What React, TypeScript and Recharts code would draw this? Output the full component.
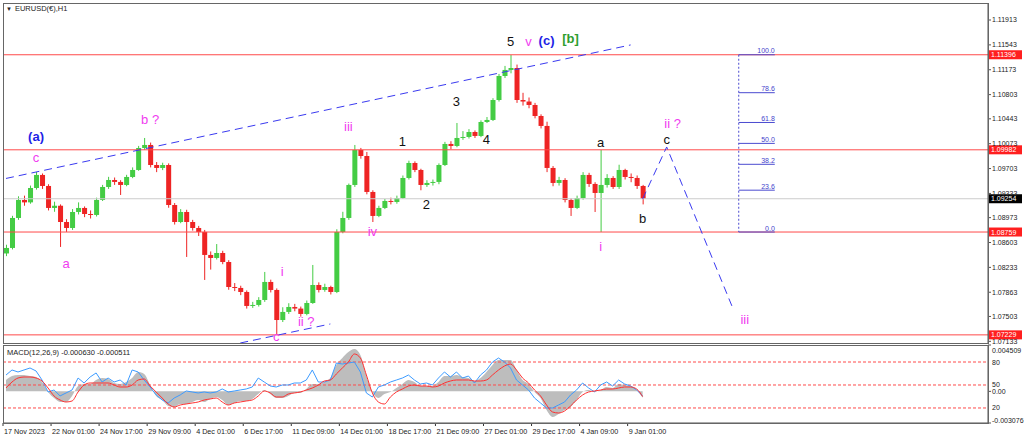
import {
  ComposedChart,
  Bar,
  Line,
  Area,
  XAxis,
  YAxis,
  ReferenceLine,
  ReferenceDot,
} from "recharts";

// EURUSD H1, each candle here folds 8 hourly bars
const FIRST_OPEN = 1.0844;
const closes = [
  1.08522, 1.08968, 1.09236, 1.092, 1.09414, 1.09608, 1.09444, 1.09117, 1.0915, 1.08908,
  1.08819, 1.09057, 1.09117, 1.09027, 1.09013, 1.09236, 1.09429, 1.09533, 1.09504, 1.09459,
  1.09578, 1.09682, 1.10009, 1.10054, 1.09756, 1.09712, 1.09756, 1.09161, 1.08908, 1.09057,
  1.08908, 1.08819, 1.0876, 1.08418, 1.08373, 1.08447, 1.08313, 1.07941, 1.07927, 1.07867,
  1.07659, 1.07674, 1.07748, 1.08016, 1.07897, 1.0745, 1.0757, 1.07644, 1.0762, 1.0754,
  1.07703, 1.07971, 1.07897, 1.07941, 1.07867, 1.0876, 1.08968, 1.09459, 1.0998, 1.0989,
  1.09355, 1.08998, 1.09117, 1.09221, 1.09206, 1.09265, 1.09563, 1.09786, 1.09682, 1.09459,
  1.09489, 1.09504, 1.09756, 1.10069, 1.10039, 1.10158, 1.10173, 1.10247, 1.10188, 1.10396,
  1.10426, 1.10723, 1.1108, 1.1117, 1.11199, 1.10723, 1.107, 1.10649, 1.10485, 1.10337,
  1.09712, 1.09489, 1.09533, 1.09236, 1.09117, 1.09265, 1.09608, 1.09474, 1.0934, 1.09459,
  1.09563, 1.09429, 1.09682, 1.09578, 1.09563, 1.09444, 1.09254,
];
const highs = [
  1.0857, 1.09, 1.0929, 1.093, 1.0945, 1.09652, 1.0963, 1.0947, 1.0921, 1.0917,
  1.0895, 1.091, 1.092, 1.0914, 1.0908, 1.0927, 1.0946, 1.0958, 1.0957, 1.0953,
  1.0961, 1.0972, 1.1004, 1.10158, 1.1009, 1.098, 1.0979, 1.0978, 1.0919, 1.091,
  1.0909, 1.0894, 1.0885, 1.0879, 1.0847, 1.0858, 1.0848, 1.0834, 1.08, 1.0796,
  1.0789, 1.0772, 1.0779, 1.08165, 1.0805, 1.0792, 1.0764, 1.077, 1.0769, 1.0765,
  1.0774, 1.08269, 1.0801, 1.0799, 1.0796, 1.088, 1.0906, 1.0948, 1.10054, 1.1001,
  1.0995, 1.0938, 1.0915, 1.0925, 1.0927, 1.093, 1.096, 1.0982, 1.0981, 1.097,
  1.0953, 1.0954, 1.0978, 1.101, 1.1011, 1.10381, 1.1026, 1.1029, 1.1027, 1.1042,
  1.1047, 1.1075, 1.1111, 1.1123, 1.11393, 1.1125, 1.1083, 1.1076, 1.1068, 1.1051,
  1.104, 1.0974, 1.0958, 1.0956, 1.0926, 1.093, 1.0965, 1.0964, 1.095, 1.0998,
  1.0962, 1.0959, 1.0976, 1.097, 1.0963, 1.096, 1.0946,
];
const lows = [
  1.084, 1.085, 1.0894, 1.0915, 1.0918, 1.0939, 1.094, 1.0908, 1.0906, 1.08537,
  1.0876, 1.0879, 1.0902, 1.0898, 1.0896, 1.0899, 1.0922, 1.094, 1.0946, 1.0931,
  1.0944, 1.0956, 1.0967, 1.0998, 1.0972, 1.0965, 1.0968, 1.0912, 1.0887, 1.0889,
  1.08388, 1.0878, 1.087, 1.08046, 1.082, 1.0835, 1.0828, 1.079, 1.0788, 1.0782,
  1.0762, 1.0763, 1.0765, 1.0772, 1.0786, 1.07242, 1.0742, 1.0754, 1.0758, 1.075,
  1.0752, 1.0769, 1.0786, 1.0787, 1.0783, 1.0785, 1.0874, 1.0894, 1.0943, 1.0985,
  1.0932, 1.08908, 1.0898, 1.091, 1.0917, 1.0918, 1.0925, 1.0954, 1.0965, 1.0938,
  1.0943, 1.0945, 1.0947, 1.0974, 1.0999, 1.1002, 1.1013, 1.1015, 1.10158, 1.1017,
  1.1038, 1.1041, 1.107, 1.1105, 1.1112, 1.1068, 1.1064, 1.106, 1.1045, 1.103,
  1.0965, 1.0944, 1.0945, 1.092, 1.08998, 1.091, 1.0924, 1.0943, 1.09057, 1.08759,
  1.0942, 1.094, 1.094, 1.0954, 1.095, 1.094, 1.0917,
];

// MACD(12,26,9) main + signal, and the 0-100 oscillator drawn in the same window
const macdMain = [
  0.001106, 0.001494, 0.001592, 0.001592, 0.001494, 0.001397, 0.000911, -0.000061, -0.000645, -0.001033,
  -0.001033, -0.00045, 0.000522, 0.000717, 0.000717, 0.001106, 0.0013, 0.001203, 0.000814, 0.000717,
  0.000911, 0.0013, 0.001883, 0.001689, 0.000619, -0.00045, -0.000839, -0.001422, -0.00152, -0.001228,
  -0.001228, -0.001033, -0.000839, -0.001033, -0.000742, -0.000547, -0.000839, -0.001325, -0.001131, -0.000936,
  -0.000936, -0.000742, -0.000256, 0.000133, -0.000256, -0.000645, -0.000645, -0.00045, -0.000158, -0.000158,
  0.00023, 0.000717, 0.000717, 0.000911, 0.0013, 0.002564, 0.003245, 0.003828, 0.00412, 0.003537,
  0.001494, -0.000061, -0.000645, -0.000256, -0.000061, 0.000328, 0.000717, 0.001106, 0.000911, 0.000522,
  0.000522, 0.000522, 0.000911, 0.001494, 0.001494, 0.001592, 0.001397, 0.0013, 0.001008, 0.0013,
  0.001883, 0.002564, 0.00305, 0.00305, 0.00305, 0.002078, 0.001106, 0.000717, -0.000061, -0.000645,
  -0.001811, -0.002492, -0.0022, -0.001811, -0.00152, -0.000839, -0.000061, 0.000133, -0.000061, 0.000133,
  0.000425, 0.000328, 0.000717, 0.000619, 0.000522, 0.000133, -0.00063,
];
const macdSignal = [
  0.000328, 0.000911, 0.0013, 0.001397, 0.001397, 0.0013, 0.001008, 0.000328, -0.00045, -0.000839,
  -0.001033, -0.000936, -0.000061, 0.000619, 0.000814, 0.000814, 0.000814, 0.000814, 0.000619, 0.000425,
  0.000425, 0.000619, 0.001106, 0.001203, 0.000522, -0.000061, -0.000645, -0.001228, -0.00152, -0.001325,
  -0.001228, -0.001131, -0.001033, -0.000839, -0.000742, -0.000645, -0.001033, -0.001325, -0.001131, -0.001033,
  -0.000936, -0.000839, -0.00045, 0.000036, -0.000158, -0.000547, -0.000547, -0.000256, -0.000158, -0.000061,
  0.000133, 0.000328, 0.000619, 0.001008, 0.001106, 0.001689, 0.002272, 0.002856, 0.003634, 0.003245,
  0.001592, -0.000158, -0.001033, -0.001228, -0.000547, -0.000061, 0.00023, 0.000522, 0.000619, 0.000522,
  0.000522, 0.000425, 0.000522, 0.000814, 0.001008, 0.001106, 0.001106, 0.001106, 0.001008, 0.001008,
  0.001106, 0.001592, 0.002078, 0.002467, 0.002661, 0.002078, 0.0013, 0.000814, 0.000133, -0.00045,
  -0.001325, -0.002006, -0.002103, -0.001908, -0.001422, -0.000839, -0.000353, -0.000061, 0.000036, 0.000133,
  0.00023, 0.00023, 0.000328, 0.000425, 0.000425, 0.00023, -0.000511,
];
const oscLine = [
  63.0, 69.6, 67.0, 69.6, 72.2, 68.3, 56.5, 40.9, 43.5, 35.7,
  39.6, 43.5, 59.1, 52.6, 60.4, 65.7, 53.9, 59.1, 53.9, 56.5,
  50.0, 69.6, 67.0, 56.5, 47.4, 37.0, 30.4, 26.5, 33.0, 37.0,
  42.2, 40.9, 39.6, 40.9, 39.6, 40.9, 44.8, 40.9, 42.2, 43.5,
  44.8, 47.4, 59.1, 53.9, 48.7, 47.4, 50.0, 50.0, 52.6, 52.6,
  56.5, 69.6, 53.9, 53.9, 56.5, 78.7, 77.4, 78.7, 80.0, 67.0,
  39.6, 34.3, 47.4, 50.0, 53.9, 56.5, 59.1, 63.0, 56.5, 51.3,
  52.6, 50.0, 59.1, 67.0, 60.4, 67.0, 59.1, 61.7, 52.6, 63.0,
  69.6, 80.0, 85.2, 80.0, 72.2, 56.5, 50.0, 43.5, 33.0, 26.5,
  20.0, 20.0, 23.9, 27.8, 37.0, 43.5, 52.6, 46.1, 40.9, 50.0,
  53.9, 48.7, 56.5, 51.3, 48.7, 43.5, 35.7,
];

const timeLabels = [
  "17 Nov 2023", "22 Nov 01:00", "24 Nov 17:00", "29 Nov 09:00", "4 Dec 01:00",
  "6 Dec 17:00", "11 Dec 09:00", "14 Dec 01:00", "18 Dec 17:00", "21 Dec 09:00",
  "27 Dec 01:00", "29 Dec 17:00", "4 Jan 09:00", "9 Jan 01:00",
];
const timeTickIdx = [0, 8, 16, 24, 32, 40, 48, 56, 64, 72, 80, 88, 96, 104];

const priceTicks = [
  1.11913, 1.11543, 1.11173, 1.10803, 1.10443, 1.10073, 1.09703,
  1.09333, 1.08973, 1.08603, 1.08233, 1.07863, 1.07503, 1.07133,
];
const levelLines = [1.11396, 1.09982, 1.08759, 1.07229];
const currentPrice = 1.09254;

const fibHigh = 1.11396;
const fibLow = 1.08759;
const fibLevels = [100, 78.6, 61.8, 50, 38.2, 23.6, 0];

const trendUpper = [{ i: 0, p: 1.09556 }, { i: 104, p: 1.11542 }];
const trendLower = [{ i: 39, p: 1.07108 }, { i: 54, p: 1.07391 }];
const projIdx = [106, 110, 121];
const projPrice = [1.09251, 1.10024, 1.07629];

const MAG = "#f03cf0";
const BLK = "#111111";
const BLU = "#1f1fe6";
const GRN = "#2f9e2f";

const waveLabels = [
  { text: "(a)", i: 5, p: 1.10173, color: BLU, bold: true },
  { text: "c", i: 5, p: 1.09875, color: MAG },
  { text: "a", i: 10, p: 1.08284, color: MAG },
  { text: "b ?", i: 24, p: 1.10426, color: MAG },
  { text: "i", i: 46, p: 1.08165, color: MAG },
  { text: "ii ?", i: 50, p: 1.07421, color: MAG },
  { text: "c", i: 45, p: 1.07205, color: MAG },
  { text: "iii", i: 57, p: 1.10322, color: MAG },
  { text: "iv", i: 61, p: 1.0876, color: MAG },
  { text: "1", i: 66, p: 1.10113, color: BLK },
  { text: "2", i: 70, p: 1.09161, color: BLK },
  { text: "3", i: 75, p: 1.10694, color: BLK },
  { text: "4", i: 80, p: 1.10128, color: BLK },
  { text: "5", i: 84, p: 1.11586, color: BLK },
  { text: "v", i: 87, p: 1.11586, color: MAG },
  { text: "(c)", i: 90, p: 1.11601, color: BLU, bold: true },
  { text: "[b]", i: 94, p: 1.11631, color: GRN, bold: true },
  { text: "a", i: 99, p: 1.10084, color: BLK },
  { text: "i", i: 99, p: 1.08551, color: MAG },
  { text: "b", i: 106, p: 1.08953, color: BLK },
  { text: "c", i: 110, p: 1.10128, color: BLK },
  { text: "ii ?", i: 111, p: 1.10366, color: MAG },
  { text: "iii", i: 123, p: 1.07451, color: MAG },
];

const TOTAL = 164;
const UP = "#44cc44";
const DOWN = "#ee2424";
const FONT = "'Liberation Sans', Arial, sans-serif";

const rows = Array.from({ length: TOTAL }, (_, i) => {
  const has = i < closes.length;
  const pj = projIdx.indexOf(i);
  return {
    i,
    open: has ? (i === 0 ? FIRST_OPEN : closes[i - 1]) : null,
    close: has ? closes[i] : null,
    range: has ? [lows[i], highs[i]] : null,
    macd: has ? macdMain[i] : null,
    signal: has ? macdSignal[i] : null,
    osc: has ? oscLine[i] : null,
    proj: pj >= 0 ? projPrice[pj] : null,
  };
});

const Candle = (props: any) => {
  const { x, y, width, height, payload } = props;
  if (!payload || payload.close == null || !isFinite(y) || !isFinite(height)) return null;
  const { open, close } = payload;
  const [low, high] = payload.range;
  const top = Math.min(y, y + height);
  const h = Math.abs(height);
  const span = high - low || 1e-9;
  const yOf = (p: number) => top + ((high - p) / span) * h;
  const color = close >= open ? UP : DOWN;
  const bTop = yOf(Math.max(open, close));
  const bBot = yOf(Math.min(open, close));
  const cx = x + width / 2;
  return (
    <g>
      <line x1={cx} x2={cx} y1={top} y2={top + h} stroke={color} strokeWidth={1} />
      <rect x={x} y={bTop} width={width} height={Math.max(1, bBot - bTop)} fill={color} />
    </g>
  );
};

const PriceTag = (props: any) => {
  const vb = props.viewBox || {};
  const x = (vb.x ?? 0) + (vb.width ?? 0);
  const y = vb.y ?? 0;
  return (
    <g>
      <rect x={x + 1} y={y - 4.5} width={33} height={9} fill={props.bg} />
      <text x={x + 3} y={y + 2.6} fontSize={7} fill="#fff" fontFamily={FONT}>
        {props.text}
      </text>
    </g>
  );
};

const FibText = (props: any) => {
  const vb = props.viewBox || {};
  return (
    <text
      x={(vb.x ?? 0) + (vb.width ?? 0)}
      y={(vb.y ?? 0) - 1.5}
      fontSize={7}
      textAnchor="end"
      fill="#4545cc"
      fontFamily={FONT}
    >
      {props.text}
    </text>
  );
};

const WaveText = (props: any) => {
  const vb = props.viewBox || {};
  return (
    <text
      x={(vb.x ?? 0) + (vb.width ?? 0) / 2}
      y={(vb.y ?? 0) + (vb.height ?? 0) / 2}
      fontSize={13}
      fontWeight={props.bold ? "bold" : "normal"}
      textAnchor="middle"
      dominantBaseline="central"
      fill={props.color}
      fontFamily={FONT}
    >
      {props.text}
    </text>
  );
};

const LevelText = (props: any) => {
  const vb = props.viewBox || {};
  return (
    <text
      x={(vb.x ?? 0) + (vb.width ?? 0) + 4}
      y={(vb.y ?? 0) + 2.5}
      fontSize={7}
      fill="#222"
      fontFamily={FONT}
    >
      {props.text}
    </text>
  );
};

const TimeTick = (props: any) => {
  const { x, y, payload } = props;
  const k = timeTickIdx.indexOf(payload.value);
  if (k < 0) return null;
  return (
    <g>
      <line x1={x - 3} x2={x - 3} y1={y} y2={y + 3} stroke="#333" />
      <text x={x - 2} y={y + 11} fontSize={7.2} fill="#222" fontFamily={FONT}>
        {timeLabels[k]}
      </text>
    </g>
  );
};

const MacdTick = (props: any) => {
  const { x, y, payload } = props;
  const v = payload.value;
  const text = v === 0 ? "0.00" : v.toFixed(6);
  const dy = v > 0 ? 5 : v < 0 ? -3 : 0;
  return (
    <text x={x} y={y + dy + 2.5} fontSize={7} fill="#222" fontFamily={FONT}>
      {text}
    </text>
  );
};

const fibPrice = (lvl: number) => fibLow + ((fibHigh - fibLow) * lvl) / 100;

export default function App() {
  return (
    <div
      style={{
        position: "fixed",
        left: 0,
        top: 0,
        width: 1024,
        height: 441,
        background: "#fff",
        fontFamily: FONT,
        overflow: "hidden",
      }}
    >
      <div style={{ position: "absolute", left: 0, top: 0 }}>
        <ComposedChart width={1024} height={344} data={rows} margin={{ top: 3, right: 0, left: 3, bottom: 1 }}>
          <XAxis dataKey="i" scale="band" hide />
          <YAxis
            orientation="right"
            width={36}
            domain={[1.07108, 1.12166]}
            allowDataOverflow
            ticks={priceTicks}
            interval={0}
            tickFormatter={(v: number) => v.toFixed(5)}
            tick={{ fontSize: 7, fill: "#222", fontFamily: FONT }}
            tickSize={3}
            tickMargin={1}
            stroke="#555"
          />
          <ReferenceLine y={currentPrice} stroke="#cccccc" label={<PriceTag text="1.09254" bg="#000" />} />
          {levelLines.map((p) => (
            <ReferenceLine key={p} y={p} stroke="#ff4a4a" label={<PriceTag text={p.toFixed(5)} bg="#ff1f1f" />} />
          ))}
          <Bar dataKey="range" barSize={5} isAnimationActive={false} shape={(p: any) => <Candle {...p} />} />
          <ReferenceLine
            segment={[{ x: trendUpper[0].i, y: trendUpper[0].p }, { x: trendUpper[1].i, y: trendUpper[1].p }]}
            stroke="#3a3af0"
            strokeDasharray="8 5"
            ifOverflow="visible"
          />
          <ReferenceLine
            segment={[{ x: trendLower[0].i, y: trendLower[0].p }, { x: trendLower[1].i, y: trendLower[1].p }]}
            stroke="#3a3af0"
            strokeDasharray="8 5"
            ifOverflow="visible"
          />
          <Line
            dataKey="proj"
            type="linear"
            connectNulls
            dot={false}
            stroke="#3a3af0"
            strokeDasharray="8 5"
            strokeWidth={1}
            isAnimationActive={false}
          />
          <ReferenceLine
            segment={[{ x: 122, y: fibHigh }, { x: 122, y: fibLow }]}
            stroke="#4b4bd0"
            strokeDasharray="2 2"
            ifOverflow="visible"
          />
          {fibLevels.map((lvl) => (
            <ReferenceLine
              key={lvl}
              segment={[{ x: 122, y: fibPrice(lvl) }, { x: 128, y: fibPrice(lvl) }]}
              stroke="#4b4bd0"
              ifOverflow="visible"
              label={<FibText text={lvl.toFixed(1)} />}
            />
          ))}
          {waveLabels.map((w, k) => (
            <ReferenceDot
              key={k}
              x={w.i}
              y={w.p}
              r={1}
              fill="none"
              stroke="none"
              ifOverflow="visible"
              label={<WaveText text={w.text} color={w.color} bold={w.bold} />}
            />
          ))}
        </ComposedChart>
      </div>

      <div style={{ position: "absolute", left: 0, top: 344 }}>
        <ComposedChart width={1024} height={97} data={rows} margin={{ top: 1, right: 0, left: 3, bottom: 0 }}>
          <XAxis
            dataKey="i"
            scale="band"
            height={18}
            ticks={timeTickIdx}
            interval={0}
            tickLine={false}
            tickSize={0}
            tickMargin={0}
            tick={(p: any) => <TimeTick {...p} />}
            stroke="#555"
          />
          <YAxis
            orientation="right"
            width={36}
            domain={[-0.003076, 0.004509]}
            allowDataOverflow
            ticks={[0.004509, 0, -0.003076]}
            interval={0}
            tickSize={3}
            tickMargin={1}
            tick={(p: any) => <MacdTick {...p} />}
            stroke="#555"
          />
          <YAxis yAxisId="osc" hide domain={[0.4, 102.2]} allowDataOverflow />
          <Area
            dataKey="macd"
            type="monotone"
            stroke="none"
            fill="#bdbdbd"
            fillOpacity={1}
            baseValue={0}
            isAnimationActive={false}
          />
          {[80, 50, 20].map((lvl) => (
            <ReferenceLine
              key={lvl}
              yAxisId="osc"
              y={lvl}
              stroke="#ff4a4a"
              strokeDasharray="3 2"
              label={<LevelText text={String(lvl)} />}
            />
          ))}
          <Line
            dataKey="osc"
            yAxisId="osc"
            type="linear"
            dot={false}
            stroke="#3d9bff"
            strokeWidth={1}
            isAnimationActive={false}
          />
          <Line
            dataKey="signal"
            type="monotone"
            dot={false}
            stroke="#ff3030"
            strokeWidth={1}
            isAnimationActive={false}
          />
        </ComposedChart>
      </div>

      <div
        style={{
          position: "absolute",
          left: 3,
          top: 3,
          width: 986,
          height: 341,
          boxSizing: "border-box",
          border: "1px solid #666",
          pointerEvents: "none",
        }}
      />
      <div
        style={{
          position: "absolute",
          left: 3,
          top: 345,
          width: 986,
          height: 79,
          boxSizing: "border-box",
          border: "1px solid #666",
          pointerEvents: "none",
        }}
      />
      <div style={{ position: "absolute", left: 6, top: 4, fontSize: 7.5, color: "#222", whiteSpace: "nowrap" }}>
        <span style={{ fontSize: 6, marginRight: 3 }}>▼</span>EURUSD(€),H1
      </div>
      <div style={{ position: "absolute", left: 7, top: 348, fontSize: 7.5, color: "#222", whiteSpace: "nowrap" }}>
        MACD(12,26,9) -0.000630 -0.000511
      </div>
    </div>
  );
}
